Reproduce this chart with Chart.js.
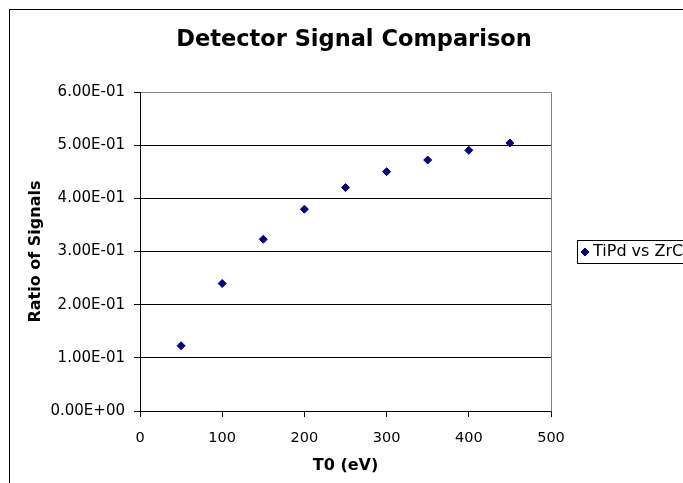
<!DOCTYPE html>
<html>
<head>
<meta charset="utf-8">
<script src="https://cdn.jsdelivr.net/npm/chart.js@4/dist/chart.umd.min.js"></script>
<style>
html,body{margin:0;padding:0;background:#fff;overflow:hidden;}
canvas{display:block;}
</style>
</head>
<body>
<canvas id="c" width="683" height="483"></canvas>
<script>
const chartTitle = 'Detector Signal Comparison';
const xTitle = 'T0 (eV)';
const yTitle = 'Ratio of Signals';
const seriesName = 'TiPd vs ZrC';
const energies = [50, 100, 150, 200, 250, 300, 350, 400, 450];
const ratios = [0.1227, 0.2398, 0.3231, 0.3795, 0.4202, 0.4502, 0.4721, 0.4903, 0.5041];
const xTicks = [0, 100, 200, 300, 400, 500];
const yTicks = [0, 0.1, 0.2, 0.3, 0.4, 0.5, 0.6];

const FONT = "'DejaVu Sans', Verdana, sans-serif";

function sci(v) {
  const s = Number(v).toExponential(2);
  const parts = s.split('e');
  let exp = parseInt(parts[1], 10);
  const sign = exp < 0 ? '-' : '+';
  exp = Math.abs(exp);
  return parts[0] + 'E' + sign + (exp < 10 ? '0' + exp : '' + exp);
}

const frame = {
  id: 'frame',
  beforeDraw(chart) {
    const ctx = chart.ctx;
    ctx.save();
    ctx.fillStyle = '#fff';
    ctx.fillRect(0, 0, chart.width, chart.height);
    ctx.restore();
  },
  beforeDatasetsDraw(chart) {
    const {ctx, chartArea: a} = chart;
    ctx.save();
    ctx.strokeStyle = '#808080';
    ctx.lineWidth = 1;
    ctx.beginPath();
    ctx.moveTo(Math.round(a.right) + 0.5, Math.round(a.top) + 0.5);
    ctx.lineTo(Math.round(a.right) + 0.5, Math.round(a.bottom) + 0.5);
    ctx.stroke();
    ctx.restore();
  },
  afterDraw(chart) {
    const ctx = chart.ctx;
    ctx.save();
    // outer chart border (extends beyond the visible window)
    ctx.strokeStyle = '#000';
    ctx.lineWidth = 1;
    ctx.strokeRect(9.5, 9.5, 900, 900);
    // legend
    const ds = chart.data.datasets[0];
    ctx.fillStyle = '#fff';
    ctx.fillRect(577.5, 240.5, 200, 23);
    ctx.strokeRect(577.5, 240.5, 200, 23);
    ctx.fillStyle = ds.backgroundColor;
    ctx.strokeStyle = ds.borderColor;
    Chart.helpers.drawPoint(ctx, {pointStyle: 'rectRot', radius: 4, rotation: 0, borderWidth: 1}, 585, 252);
    ctx.fillStyle = '#000';
    ctx.font = '16px ' + FONT;
    ctx.textBaseline = 'middle';
    ctx.textAlign = 'left';
    ctx.fillText(ds.label, 593, 252);
    ctx.restore();
  }
};

new Chart(document.getElementById('c'), {
  type: 'scatter',
  data: {
    datasets: [{
      label: seriesName,
      data: energies.map((x, i) => ({x: x, y: ratios[i]})),
      backgroundColor: '#000080',
      borderColor: '#000080',
      borderWidth: 1,
      pointStyle: 'rectRot',
      pointRadius: 4,
      pointHoverRadius: 4
    }]
  },
  options: {
    responsive: false,
    animation: false,
    events: [],
    layout: {padding: {left: 25, right: 0, top: 0, bottom: 0}},
    plugins: {
      legend: {display: false},
      tooltip: {enabled: false},
      title: {
        display: true,
        text: chartTitle,
        color: '#000',
        font: {family: FONT, size: 22.5, weight: 'bold', lineHeight: 1.2},
        padding: {top: 27, bottom: 38}
      }
    },
    scales: {
      x: {
        type: 'linear',
        position: 'bottom',
        min: 0,
        max: 500,
        afterBuildTicks(scale) { scale.ticks = xTicks.map(v => ({value: v})); },
        afterFit(scale) { scale.height = 72; },
        grid: {display: true, drawOnChartArea: false, drawTicks: true, tickLength: 6, tickColor: '#000'},
        border: {display: true, color: '#000', width: 1},
        ticks: {
          color: '#000',
          padding: 13,
          maxRotation: 0,
          font: {family: FONT, size: 14.5},
          callback: v => String(v)
        },
        title: {
          display: true,
          text: xTitle,
          color: '#000',
          font: {family: FONT, size: 16, weight: 'bold', lineHeight: 1.2},
          padding: {top: 0, bottom: 8}
        }
      },
      y: {
        type: 'linear',
        position: 'left',
        min: 0,
        max: 0.6,
        afterBuildTicks(scale) { scale.ticks = yTicks.map(v => ({value: v})); },
        afterFit(scale) { scale.width = 115; },
        grid: {
          display: true,
          drawOnChartArea: true,
          drawTicks: true,
          tickLength: 6,
          tickColor: '#000',
          color: c => (c.tick && Math.abs(c.tick.value - 0.6) < 1e-9) ? '#808080' : '#000',
          lineWidth: 1
        },
        border: {display: true, color: '#000', width: 1},
        ticks: {
          color: '#000',
          padding: 9,
          font: {family: FONT, size: 15},
          callback: v => sci(v)
        },
        title: {
          display: true,
          text: yTitle,
          color: '#000',
          font: {family: FONT, size: 16, weight: 'bold', lineHeight: 1.2},
          padding: {top: 1, bottom: 0}
        }
      },
      rightSpace: {
        type: 'linear',
        position: 'right',
        display: true,
        afterFit(scale) { scale.width = 132; },
        grid: {display: false, drawOnChartArea: false, drawTicks: false},
        border: {display: false},
        ticks: {display: false},
        title: {display: false}
      }
    }
  },
  plugins: [frame]
});
</script>
</body>
</html>
